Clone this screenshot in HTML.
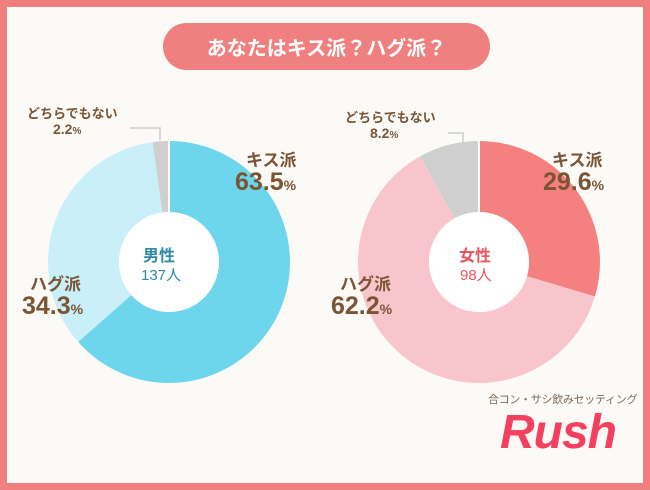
<!DOCTYPE html>
<html><head><meta charset="utf-8"><style>
body{margin:0;width:650px;height:490px;overflow:hidden;background:#f08080;font-family:"Liberation Sans","Noto Sans CJK JP",sans-serif}
.card{position:absolute;left:7px;top:7px;width:636px;height:476px;background:#fbfaf7}
.t{position:absolute;white-space:nowrap;color:#7a5533;font-weight:bold}
</style></head><body>
<div class="card"></div>
<div style="position:absolute;left:163px;top:23px;width:327px;height:47px;border-radius:24px;background:#f08080;color:#fff;font-size:20px;font-weight:bold;line-height:47px;text-align:center;font-family:'Noto Sans CJK JP',sans-serif">あなたはキス派？ハグ派？</div>
<svg width="650" height="490" style="position:absolute;left:0;top:0">
<g transform="rotate(-90 169 262)" fill="none" stroke-width="71">
<circle cx="169" cy="262" r="85.5" stroke="#6ed6ec" stroke-dasharray="341.1 600"/>
<circle cx="169" cy="262" r="85.5" stroke="#c9eff9" stroke-dasharray="184.3 600" stroke-dashoffset="-341.1"/>
<circle cx="169" cy="262" r="85.5" stroke="#cfcfcf" stroke-dasharray="11.8 600" stroke-dashoffset="-525.4"/>
</g>
<g transform="rotate(-90 479 262)" fill="none" stroke-width="71">
<circle cx="479" cy="262" r="85.5" stroke="#f48080" stroke-dasharray="159 600"/>
<circle cx="479" cy="262" r="85.5" stroke="#f9c5cd" stroke-dasharray="334.1 600" stroke-dashoffset="-159"/>
<circle cx="479" cy="262" r="85.5" stroke="#cfcfcf" stroke-dasharray="44 600" stroke-dashoffset="-493.2"/>
</g>
<g stroke="#fff" stroke-width="2">
<line x1="169" y1="262" x2="169" y2="140"/>
<line x1="479" y1="262" x2="479" y2="140"/>
</g>
<circle cx="169" cy="262" r="50" fill="#fff"/>
<circle cx="479" cy="262" r="50" fill="#fff"/>
<polyline points="130,128 160,128 160,140" fill="none" stroke="#ccc" stroke-width="1.5"/>
<polyline points="448,133 463,133 463,145" fill="none" stroke="#ccc" stroke-width="1.5"/>
</svg>
<div class="t" style="left:143px;top:242px;font-size:16px;color:#2f8aa8">男性</div>
<div class="t" style="left:141px;top:264px;font-size:15px;color:#2f8aa8;font-weight:normal">137人</div>
<div class="t" style="left:459px;top:242px;font-size:16px;color:#e85560">女性</div>
<div class="t" style="left:460px;top:264px;font-size:15px;color:#e85560;font-weight:normal">98人</div>
<div class="t" style="left:246px;top:146px;font-size:17px">キス派</div>
<div class="t" style="left:235px;top:168px;font-size:25px">63.5<span style="font-size:14px">%</span></div>
<div class="t" style="left:30px;top:270px;font-size:17px">ハグ派</div>
<div class="t" style="left:22px;top:292px;font-size:25px">34.3<span style="font-size:14px">%</span></div>
<div class="t" style="left:27px;top:103px;font-size:13px">どちらでもない</div>
<div class="t" style="left:53px;top:121px;font-size:14px">2.2<span style="font-size:10px">%</span></div>
<div class="t" style="left:552px;top:146px;font-size:17px">キス派</div>
<div class="t" style="left:543px;top:168px;font-size:25px">29.6<span style="font-size:14px">%</span></div>
<div class="t" style="left:340px;top:270px;font-size:17px">ハグ派</div>
<div class="t" style="left:331px;top:292px;font-size:25px">62.2<span style="font-size:14px">%</span></div>
<div class="t" style="left:345px;top:107px;font-size:13px">どちらでもない</div>
<div class="t" style="left:370px;top:125px;font-size:14px">8.2<span style="font-size:10px">%</span></div>
<div class="t" style="left:488px;top:391px;font-size:11px;font-weight:normal;color:#7a6a5a;letter-spacing:-0.3px">合コン・サシ飲みセッティング</div>
<div class="t" style="left:500px;top:405px;font-size:48px;color:#f4405e;font-style:italic;letter-spacing:-1px">Rush</div>
</body></html>
